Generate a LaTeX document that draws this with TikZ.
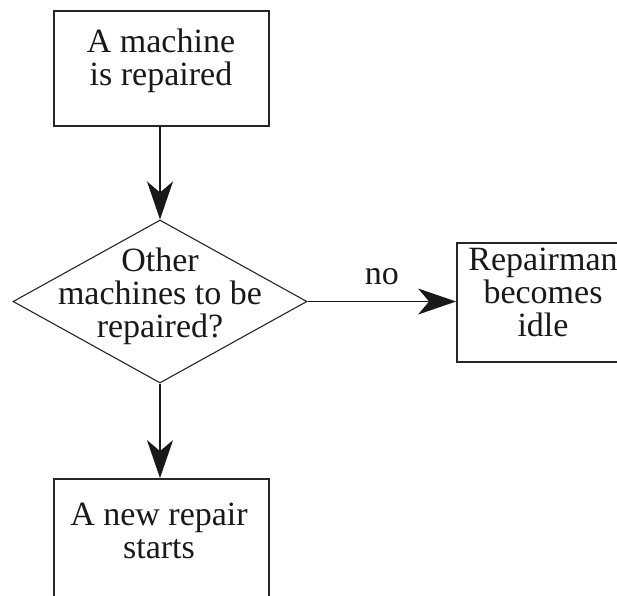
\documentclass[tikz,border=0pt]{standalone}
\usepackage{fontspec}
\setmainfont{Liberation Serif}
\usetikzlibrary{shapes.geometric,arrows.meta}
\begin{document}
\begin{tikzpicture}[x=1pt,y=-1pt,
  box/.style={draw=black!85,line width=1.8pt,rectangle,inner sep=0pt},
  decision/.style={draw=black!85,line width=1.1pt,diamond,inner sep=0pt},
  txt/.style={align=center,inner sep=0pt,text=black!90,
    font=\fontsize{34}{33}\selectfont},
  flow/.style={draw=black!90,line width=1.4pt,
    -{Stealth[length=38pt,width=26pt,inset=11pt]}}]
\useasboundingbox (0,0) rectangle (617,595);
\clip (0,0) rectangle (617,595);

% shapes
\node[box,minimum width=215pt,minimum height=115pt] (start) at (161.5,68.5) {};
\node[decision,minimum width=294pt,minimum height=163pt] (ask) at (160,301.5) {};
\node[box,minimum width=174pt,minimum height=119pt] (idle) at (544,302.5) {};
\node[box,minimum width=215pt,minimum height=125pt] (next) at (161.5,541.5) {};

% texts
\node[txt] (startT) at (161,60.6) {A machine\\is repaired};
\node[txt] (askT) at (160,296.7) {Other\\machines to be\\repaired?};
\node[txt] (idleT) at (543,292.4) {Repairman\\becomes\\idle};
\node[txt] (nextT) at (159,530.4) {A new repair\\starts};

% connectors
\draw[flow] (ask.north |- start.south) -- (ask.north);
\draw[flow] (ask.east) -- node[txt,midway,anchor=base,yshift=17pt] (no) {no} (ask.east -| idle.west);
\draw[flow] (ask.south) -- (ask.south |- next.north);
\end{tikzpicture}
\end{document}
